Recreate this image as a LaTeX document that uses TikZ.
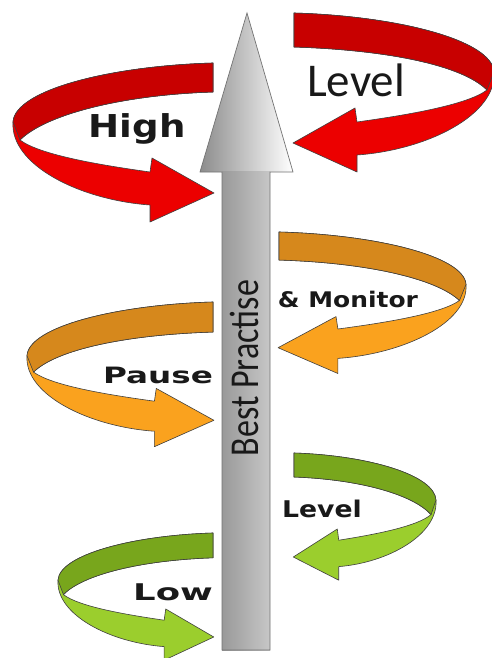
\documentclass[tikz,border=0pt]{standalone}
\usepackage{fontspec}
\usepackage{graphicx}
\newfontfamily\dvs{DejaVu Sans}
\newfontfamily\carl{Carlito}
\definecolor{redF}{RGB}{236,0,0}
\definecolor{redB}{RGB}{200,0,0}
\definecolor{orF}{RGB}{250,162,30}
\definecolor{orB}{RGB}{214,136,28}
\definecolor{grF}{RGB}{155,206,45}
\definecolor{grB}{RGB}{120,166,28}
\tikzset{
  rib/.style={draw=black!75, line width=0.6pt, line join=round},
  shaftline/.style={draw=black!55, line width=0.7pt},
  lbl/.style={anchor=base, inner sep=0pt, text=black!90},
}
\newcommand\ribbonshape[3]{%
  \filldraw[rib, fill=#1] (0,0) .. controls (103,3) and (198,27) .. (200,59)
    .. controls (203,102) and (133,137) .. (63,142)
    -- (63,159) -- (-1,130) -- (61,95) -- (63,109)
    .. controls (113,102) and (173,92) .. (193,77)
    .. controls (168,52) and (93,#3+3) .. (0,#3) -- cycle;
  \filldraw[rib, fill=#2] (0,0) .. controls (103,3) and (198,27) .. (200,59)
    -- (193,77) .. controls (168,52) and (93,#3+3) .. (0,#3) -- cycle;
}
\begin{document}
\begin{tikzpicture}[x=1pt,y=-1pt]
\useasboundingbox (0,0) rectangle (492,658);
\fill[white] (0,0) rectangle (492,658);

% central arrow
\shade[left color=black!45, right color=white] (247,13) -- (293,172) -- (200,172) -- cycle;
\shade[left color=black!40, middle color=white, right color=black!22] (222,171) rectangle (270,650);
\draw[shaftline, line join=miter] (247,13) -- (293,172) -- (270,172) -- (270,650) -- (222,650) -- (222,172) -- (200,172) -- cycle;

% red
\begin{scope}[shift={(213,63)}, xscale=-1, yscale=1]
  \ribbonshape{redF}{redB}{29}
\end{scope}
\begin{scope}[shift={(294,13)}, xscale=1, yscale=1]
  \ribbonshape{redF}{redB}{34}
\end{scope}
% orange
\begin{scope}[shift={(213,302)}, xscale=-0.93, yscale=0.91]
  \ribbonshape{orF}{orB}{33}
\end{scope}
\begin{scope}[shift={(279,232)}, xscale=0.935, yscale=0.89]
  \ribbonshape{orF}{orB}{31.5}
\end{scope}
% green
\begin{scope}[shift={(213,533)}, xscale=-0.775, yscale=0.8]
  \ribbonshape{grF}{grB}{31}
\end{scope}
\begin{scope}[shift={(294,453)}, xscale=0.71, yscale=0.8]
  \ribbonshape{grF}{grB}{30}
\end{scope}

% labels
\node[lbl, font=\dvs\bfseries\fontsize{31.5}{32}\selectfont] (high) at (137,137) {\scalebox{1.18}[1]{High}};
\node[lbl, font=\carl\fontsize{47}{48}\selectfont] (level1) at (356,97) {Level};
\node[lbl, font=\dvs\bfseries\fontsize{21.5}{22}\selectfont] (monitor) at (348,307) {\scalebox{1.16}[1]{\& Monitor}};
\node[lbl, font=\dvs\bfseries\fontsize{22.5}{23}\selectfont] (pause) at (158,383) {\scalebox{1.45}[1]{Pause}};
\node[lbl, font=\dvs\bfseries\fontsize{23}{24}\selectfont] (level2) at (322,517) {\scalebox{1.16}[1]{Level}};
\node[lbl, font=\dvs\bfseries\fontsize{23}{24}\selectfont] (low) at (173,600) {\scalebox{1.54}[1]{Low}};
\node[lbl, rotate=90, font=\carl\fontsize{41}{42}\selectfont] (best) at (258,368) {\scalebox{0.83}[1]{Best Practise}};
\end{tikzpicture}
\end{document}
